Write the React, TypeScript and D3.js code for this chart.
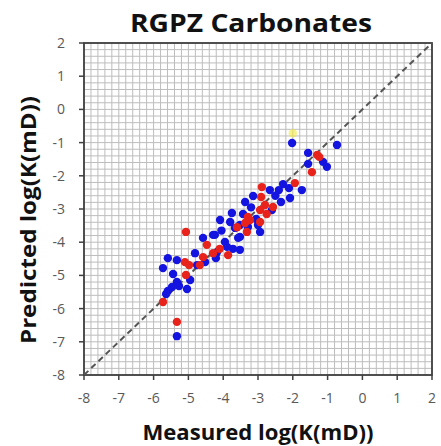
import React from "react";
import * as d3 from "d3";

const title = "RGPZ Carbonates";
const xLabel = "Measured log(K(mD))";
const yLabel = "Predicted log(K(mD))";
const ticks = [-8, -7, -6, -5, -4, -3, -2, -1, 0, 1, 2];

const blueX = [-2.02, -0.73, -1.56, -1.13, -1.56, -1.02, -2.28, -2.11, -1.74, -2.4, -2.66, -2.08, -3.14, -2.34, -3.37, -2.6, -3.43, -3.0, -3.29, -2.94, -3.52, -4.09, -3.8, -3.75, -3.66, -4.24, -3.52, -4.58, -4.29, -3.95, -3.57, -3.52, -3.72, -3.89, -4.18, -4.81, -4.52, -5.59, -5.33, -4.75, -5.73, -5.44, -5.33, -4.95, -5.27, -5.47, -5.04, -5.59, -5.64, -5.33, -4.21, -3.2, -2.5, -3.05, -4.05];
const blueY = [-1.01, -1.07, -1.31, -1.58, -1.64, -1.73, -2.25, -2.37, -2.43, -2.43, -2.43, -2.67, -2.61, -2.79, -2.79, -3.03, -3.15, -3.48, -3.54, -3.69, -3.48, -3.33, -3.39, -3.12, -3.57, -3.78, -3.84, -3.87, -3.78, -3.99, -3.87, -4.23, -4.2, -4.14, -4.3, -4.33, -4.6, -4.48, -4.54, -4.69, -4.78, -4.96, -5.2, -5.14, -5.32, -5.35, -5.41, -5.47, -5.56, -6.83, -4.48, -2.95, -2.6, -3.3, -3.65];

const redX = [-1.3, -1.45, -1.94, -2.89, -2.91, -2.8, -2.57, -2.94, -3.23, -2.94, -3.37, -3.29, -5.07, -4.47, -3.86, -4.29, -4.58, -5.1, -4.67, -4.98, -5.07, -5.73, -5.33, -3.32, -1.24, -2.75, -3.6, -4.1];
const redY = [-1.37, -1.89, -2.22, -2.34, -2.64, -2.88, -2.94, -3.03, -3.33, -3.39, -3.42, -3.24, -3.69, -4.08, -4.39, -4.33, -4.45, -4.6, -4.69, -4.69, -4.99, -5.8, -6.4, -3.69, -1.43, -3.15, -3.55, -4.2];

const yellowX = [-2.0];
const yellowY = [-0.72];

const M = { left: 84, right: 432, top: 43, bottom: 375 };

export default function App() {
  const x = d3.scaleLinear().domain([-8, 2]).range([M.left, M.right]);
  const y = d3.scaleLinear().domain([-8, 2]).range([M.bottom, M.top]);
  const minor = d3.range(-8, 2.0001, 0.2);
  const font = "'Open Sans', sans-serif";
  const axisCol = "#404040";
  const labCol = "#595959";
  const r = 4.2;

  return (
    <svg width={441} height={446} style={{ position: "absolute", left: 0, top: 0, background: "#fff" }}>
      <rect x={0} y={0} width={441} height={446} fill="#fff" />
      {minor.map((v, i) => (
        <g key={"g" + i}>
          <line x1={x(v)} x2={x(v)} y1={M.top} y2={M.bottom} stroke="#bdbdbd" strokeWidth={1} />
          <line x1={M.left} x2={M.right} y1={y(v)} y2={y(v)} stroke="#bdbdbd" strokeWidth={1} />
        </g>
      ))}
      <rect x={M.left} y={M.top} width={M.right - M.left} height={M.bottom - M.top} fill="none" stroke={axisCol} strokeWidth={1.8} />
      <line x1={x(-8)} y1={y(-8)} x2={x(2)} y2={y(2)} stroke="#555" strokeWidth={2} strokeDasharray="6,4" />
      {blueX.map((v, i) => (
        <circle key={"b" + i} cx={x(v)} cy={y(blueY[i])} r={r} fill="#1414e0" />
      ))}
      {redX.map((v, i) => (
        <circle key={"r" + i} cx={x(v)} cy={y(redY[i])} r={r} fill="#e8231c" />
      ))}
      {yellowX.map((v, i) => (
        <circle key={"y" + i} cx={x(v)} cy={y(yellowY[i])} r={r} fill="#f2ea3a" opacity={0.6} />
      ))}
      {ticks.map((t) => (
        <g key={"t" + t}>
          <line x1={x(t)} x2={x(t)} y1={M.bottom} y2={M.bottom + 5} stroke={axisCol} strokeWidth={1.5} />
          <line x1={M.left - 5} x2={M.left} y1={y(t)} y2={y(t)} stroke={axisCol} strokeWidth={1.5} />
          <text x={x(t)} y={M.bottom + 28} textAnchor="middle" fontFamily={font} fontSize={14} fill={labCol}>
            {t}
          </text>
          <text x={M.left - 19} y={y(t) + 5} textAnchor="end" fontFamily={font} fontSize={14} fill={labCol}>
            {t}
          </text>
        </g>
      ))}
      <text x={251} y={32} textAnchor="middle" fontFamily={font} fontSize={25} fontWeight="bold" fill="#111" textLength={242} lengthAdjust="spacingAndGlyphs">
        {title}
      </text>
      <text x={258} y={440} textAnchor="middle" fontFamily={font} fontSize={21} fontWeight="bold" fill="#111" textLength={231} lengthAdjust="spacingAndGlyphs">
        {xLabel}
      </text>
      <text transform={`translate(36,220) rotate(-90)`} textAnchor="middle" fontFamily={font} fontSize={21} fontWeight="bold" fill="#111" textLength={248} lengthAdjust="spacingAndGlyphs">
        {yLabel}
      </text>
    </svg>
  );
}
